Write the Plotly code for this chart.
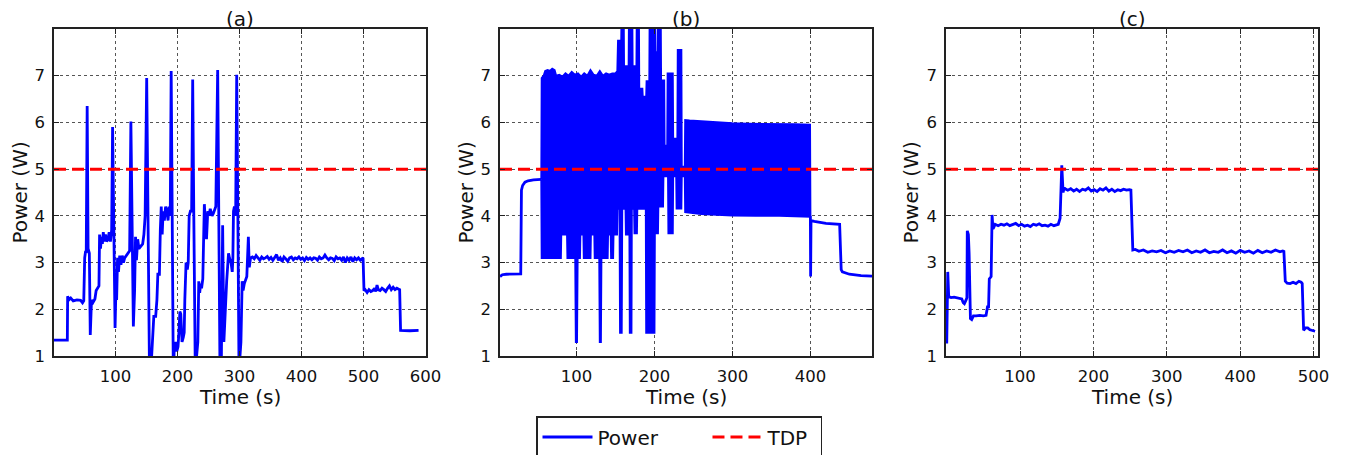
import plotly.graph_objects as go

# ========= DATA =========
TDP_W = 5.0

# (a) power trace
A_T = [1, 22.5, 23, 25, 28, 32, 38, 44, 47, 49, 50.5, 52, 53, 54.5, 56, 58, 59.5, 61.5, 64, 67,
       69, 72, 73.5, 74.5, 76, 77.5, 79, 80.5, 82, 84, 86, 88, 90, 92, 94, 95.5, 97, 99.5, 101, 102,
       103.5, 105, 107, 109, 111, 113, 115, 118, 121, 123, 125, 127, 129, 131, 132.5, 134, 136, 138, 141, 144,
       146, 148, 150.5, 152.5, 155, 158.5, 160.5, 162, 165, 167, 168.5, 171, 172.5, 174, 175.5, 177, 179, 181, 183, 185,
       186.5, 188.5, 190, 192, 193.5, 195, 197, 199, 201, 202.5, 204, 205.5, 207.5, 209.5, 211, 212, 214, 216, 217.5, 219,
       221, 223, 224.7, 226.5, 229, 231, 233, 234.5, 236, 237.5, 239, 241, 243.5, 245, 247, 249, 251, 253, 256, 258,
       260, 262, 265, 267, 268.8, 271, 273, 275, 277, 279.5, 281, 282.5, 284, 286.5, 288.5, 289.5, 290.5, 292, 294, 295.7,
       297.5, 299.5, 301, 302.5, 304.5, 306, 308, 310, 312, 314.5, 316, 318,
       321, 324, 327, 330, 333, 336, 339, 342, 345, 348, 351, 354, 357, 360, 363, 366, 369, 372, 375, 378,
       381, 384, 387, 390, 393, 396, 399, 402, 405, 408, 411, 414, 417, 420, 423, 426, 429, 432, 435, 438,
       441, 444, 447, 450, 453, 456, 459, 462, 465, 468, 471, 474, 477, 480, 483, 486, 489, 492, 495, 498, 499.5,
       501, 503, 506, 509, 512, 515, 518, 520, 522, 524, 527, 530, 533, 536, 539, 542, 545, 548, 551, 554,
       557, 558.5, 560, 575, 589]
A_P = [1.34, 1.34, 2.28, 2.2, 2.24, 2.18, 2.2, 2.19, 2.14, 2.18, 3.1, 3.25, 3.2, 6.35, 3.3, 3.2, 1.45, 2.2, 2.15, 2.22,
       2.4, 2.45, 2.5, 3.6, 3.3, 3.55, 3.4, 3.65, 3.45, 3.6, 3.45, 3.5, 3.65, 3.45, 3.7, 5.9, 3.6, 1.6, 2.5, 2.2,
       3.1, 2.8, 3.15, 2.95, 3.15, 3.0, 3.1, 3.15, 3.2, 3.25, 6.02, 3.5, 1.63, 2.4, 3.55, 3.05, 3.5, 3.3, 3.35, 3.4,
       3.6, 4.0, 6.95, 4.0, 0.7, 1.0, 1.5, 1.85, 1.85, 2.2, 2.75, 2.75, 3.7, 4.2, 3.6, 4.1, 3.9, 4.2, 4.1, 3.9,
       4.2, 4.0, 7.1, 4.0, 0.5, 1.2, 1.3, 1.1, 1.2, 1.5, 1.95, 1.9, 1.3, 1.4, 1.5, 2.2, 3.0, 2.85, 3.0, 4.0,
       4.1, 4.1, 6.92, 4.0, 0.5, 1.0, 1.3, 2.6, 2.35, 2.55, 2.45, 2.65, 4.25, 3.9, 3.5, 4.1, 4.0, 4.15, 4.0, 4.05,
       4.15, 4.2, 7.12, 4.1, 0.5, 1.0, 3.8, 1.3, 2.0, 2.6, 2.9, 3.2, 3.1, 3.0, 2.8, 3.1, 4.1, 4.2, 4.0, 7.02,
       4.1, 0.5, 1.0, 1.3, 2.6, 2.4, 2.55, 2.65, 2.7, 3.55, 2.9, 3.1,
       3.12, 3.08, 3.15, 3.1, 3.05, 3.12, 3.08, 3.1, 3.13, 3.07, 3.11, 3.05, 3.1, 3.17, 3.05, 3.1, 3.02, 3.12, 3.08, 3.03,
       3.1, 3.12, 3.06, 3.1, 3.08, 3.12, 3.07, 3.1, 3.04, 3.11, 3.07, 3.1, 3.06, 3.1, 3.09, 3.05, 3.12, 3.08, 3.1, 3.16,
       3.1, 3.06, 3.1, 3.09, 3.04, 3.12, 3.08, 3.1, 3.05, 3.12, 3.0, 3.1, 3.05, 3.12, 3.02, 3.1, 3.06, 3.1, 3.05, 3.08, 3.1,
       2.4, 2.42, 2.36, 2.42, 2.38, 2.4, 2.45, 2.38, 2.52, 2.42, 2.4, 2.45, 2.42, 2.38, 2.45, 2.5, 2.42, 2.47, 2.42, 2.45,
       2.43, 2.42, 1.55, 1.54, 1.55]

# (b) quiet parts before / after the throttling phase
B_PRE_T = [2, 5, 10, 20, 28.6, 29.5, 31, 34, 38, 45, 50, 55]
B_PRE_P = [2.7, 2.74, 2.75, 2.75, 2.76, 4.55, 4.65, 4.72, 4.75, 4.77, 4.78, 4.78]
B_POST_T = [400, 400.3, 400.8, 405, 420, 437.5, 439.5, 441, 450, 465, 479]
B_POST_P = [4.0, 2.7, 3.9, 3.88, 3.84, 3.82, 2.85, 2.8, 2.75, 2.72, 2.71]

# (b) envelope of the dense oscillation (top / bottom of the band)
B_HI_T = [55, 55.5, 58, 60, 63, 66, 69, 72, 74, 78, 82, 86, 90, 94, 98, 102, 106, 110, 114, 118,
          122, 126, 130, 134, 138, 142, 146, 150, 152.5, 153.4, 157.5, 158, 160.5, 161, 167, 167.5, 171.5, 172, 177, 177.5,
          180, 180.5, 184.5, 185, 189.5, 190, 193.5, 194, 200.5, 201, 204, 204.5, 208, 208.5, 212.5, 213, 216.5, 217, 223.5, 224,
          229.5, 230, 234.5, 235, 239, 239.5, 245, 260, 280, 300, 320, 340, 360, 380, 399.5, 400]
B_HI_P = [4.78, 6.95, 7.0, 7.1, 7.12, 7.1, 7.15, 7.12, 7.0, 7.02, 6.98, 7.05, 7.0, 7.08, 7.02, 7.05, 6.98, 7.05, 7.0, 7.12,
          7.02, 7.0, 7.1, 7.0, 7.05, 7.02, 7.05, 7.05, 7.1, 7.75, 7.75, 8.5, 8.5, 7.2, 7.2, 8.5, 8.5, 7.2, 7.2, 8.5,
          8.5, 6.72, 6.72, 6.55, 6.55, 6.88, 6.88, 8.5, 8.5, 7.5, 7.5, 8.5, 8.5, 6.9, 6.9, 5.5, 5.5, 7.05, 7.05, 5.65,
          5.65, 7.55, 7.55, 5.05, 5.05, 6.05, 6.04, 6.02, 6.0, 5.98, 5.97, 5.97, 5.96, 5.96, 5.95, 4.0]
B_LO_T = [55, 55.5, 80, 80.5, 88, 88.5, 98.5, 99.3, 100.7, 101.5, 104.5, 105, 109, 109.5, 118, 118.5, 123, 123.5, 129.3, 130,
          131.3, 132, 140, 140.5, 144, 144.5, 147, 147.5, 152, 152.5, 155.3, 156, 158, 158.7, 163, 163.5, 168, 168.5, 170.5, 171,
          174, 174.5, 177.5, 178, 189, 189.5, 200, 200.5, 204.5, 205, 211, 211.5, 217.5, 218, 223.5, 224, 228, 228.5, 234.5, 235,
          239, 239.5, 260, 280, 300, 330, 360, 399.5, 400]
B_LO_P = [4.78, 3.1, 3.1, 3.6, 3.6, 3.1, 3.1, 1.3, 1.3, 3.1, 3.1, 3.6, 3.6, 3.1, 3.1, 3.6, 3.6, 3.1, 3.1, 1.3,
          1.3, 3.1, 3.1, 3.6, 3.6, 3.1, 3.1, 3.6, 3.6, 4.15, 4.15, 1.5, 1.5, 4.15, 4.15, 3.6, 3.6, 1.5, 1.5, 4.15,
          4.15, 3.63, 3.63, 4.15, 4.15, 1.5, 1.5, 3.63, 3.63, 4.2, 4.2, 4.85, 4.85, 3.63, 3.63, 4.85, 4.85, 4.16, 4.16, 4.85,
          4.85, 4.08, 4.04, 4.02, 4.01, 4.0, 4.0, 3.98, 4.0]

# (c) power trace
C_T = [0, 1.4, 2.7, 6, 10, 14, 18, 20.5, 22.5, 24, 26.4, 27.5, 28, 29.5, 30.5, 32.3, 34, 36.4, 40, 45,
       50, 53.6, 55.5, 57, 58, 60.5, 61.8, 63, 64, 66, 70, 74, 78, 82, 86, 90, 94, 98, 102, 106,
       110, 114, 118, 122, 126, 130, 134, 138, 142, 146, 150, 152, 154.5, 156.8, 158.6, 160, 161.4, 165, 169, 173,
       177, 181, 185, 189, 193, 197, 201, 205, 209, 213, 217, 221, 225, 229, 233, 237, 241, 245, 249, 251,
       253.6, 257, 262, 268, 274, 280, 286, 292, 298, 304, 310, 316, 322, 328, 334, 340, 346, 352, 358, 364,
       370, 376, 382, 388, 394, 400, 406, 412, 418, 424, 430, 436, 442, 448, 454, 458, 459.5, 461.4, 464, 468,
       472, 476, 480, 483, 484.5, 486.4, 489, 492, 495, 498, 502]
C_P = [1.27, 2.8, 2.27, 2.25, 2.26, 2.24, 2.23, 2.22, 2.14, 2.12, 2.2, 2.25, 3.68, 3.6, 3.2, 1.8, 1.78, 1.86, 1.86, 1.87,
       1.86, 1.87, 2.05, 2.05, 2.65, 2.7, 4.02, 3.72, 3.75, 3.82, 3.79, 3.82, 3.8, 3.83, 3.79, 3.81, 3.84, 3.79, 3.82, 3.78,
       3.8, 3.77, 3.82, 3.8, 3.83, 3.79, 3.8, 3.78, 3.82, 3.79, 3.8, 3.82, 3.95, 5.08, 4.5, 4.6, 4.58, 4.55, 4.58, 4.53,
       4.57, 4.52, 4.57, 4.55, 4.6, 4.53, 4.56, 4.52, 4.58, 4.55, 4.6, 4.53, 4.57, 4.52, 4.56, 4.54, 4.57, 4.55, 4.56, 4.55,
       3.27, 3.28, 3.24, 3.27, 3.22, 3.25, 3.23, 3.26, 3.21, 3.25, 3.22, 3.26, 3.23, 3.27, 3.21, 3.25, 3.22, 3.27, 3.21, 3.24,
       3.22, 3.27, 3.21, 3.25, 3.2, 3.26, 3.22, 3.25, 3.2, 3.26, 3.21, 3.25, 3.22, 3.27, 3.23, 3.25, 3.24, 2.6, 2.56, 2.55,
       2.58, 2.55, 2.6, 2.58, 2.55, 1.55, 1.6, 1.6, 1.56, 1.55, 1.53]

X_RANGES = [[1, 601], [2, 479], [-1, 506]]
X_TICKS = [[100, 200, 300, 400, 500, 600], [100, 200, 300, 400], [100, 200, 300, 400, 500]]
Y_TICKS = [1, 2, 3, 4, 5, 6, 7]
PANEL_TITLES = ["(a)", "(b)", "(c)"]

# ========= STYLE =========
BLUE = "#0000ff"
RED = "#ff0000"
FONT = "DejaVu Sans"
# the page body keeps its default 8px margin, so the figure is shrunk by that much
OFF = 8
W, H = 1353 - OFF, 455 - OFF


def px_x(px):
    return (px - OFF) / W


def px_y(py):
    return 1 - (py - OFF) / H


X_DOMAINS = [[px_x(54), px_x(426)], [px_x(500), px_x(872)], [px_x(946), px_x(1318)]]
Y_DOMAIN = [px_y(356), px_y(29)]
YLABEL_X = [19, 465, 910]
NBSP = "\u00a0"   # pads legend entries so the box spacing matches

fig = go.Figure()

power_line = dict(color=BLUE, width=2.8)
tdp_line = dict(color=RED, width=3, dash="12px,6px")

# (a)
fig.add_trace(go.Scatter(x=A_T, y=A_P, mode="lines", line=power_line, name="Power" + NBSP * 7,
                         legendgroup="power", xaxis="x", yaxis="y"))

# (b)
fig.add_trace(go.Scatter(x=B_PRE_T, y=B_PRE_P, mode="lines", line=power_line, showlegend=False,
                         legendgroup="power", xaxis="x2", yaxis="y2"))
fig.add_trace(go.Scatter(x=B_HI_T, y=B_HI_P, mode="lines", line=dict(color=BLUE, width=2),
                         showlegend=False, legendgroup="power", xaxis="x2", yaxis="y2"))
fig.add_trace(go.Scatter(x=B_LO_T, y=B_LO_P, mode="lines", line=dict(color=BLUE, width=2),
                         fill="tonexty", fillcolor=BLUE, showlegend=False, legendgroup="power",
                         xaxis="x2", yaxis="y2"))
fig.add_trace(go.Scatter(x=B_POST_T, y=B_POST_P, mode="lines", line=power_line, showlegend=False,
                         legendgroup="power", xaxis="x2", yaxis="y2"))

# (c)
fig.add_trace(go.Scatter(x=C_T, y=C_P, mode="lines", line=power_line, showlegend=False,
                         legendgroup="power", xaxis="x3", yaxis="y3"))

# TDP lines
for i, rng in enumerate(X_RANGES):
    sfx = "" if i == 0 else str(i + 1)
    fig.add_trace(go.Scatter(x=rng, y=[TDP_W, TDP_W], mode="lines", line=tdp_line, name="TDP" + NBSP,
                             legendgroup="tdp", showlegend=(i == 0),
                             xaxis="x" + sfx, yaxis="y" + sfx))


def axis_style():
    return dict(showline=True, linecolor="#222", linewidth=1.5, mirror="allticks",
                ticks="inside", ticklen=5, tickwidth=1, tickcolor="#222",
                showgrid=True, gridcolor="#555", gridwidth=1, griddash="dot",
                zeroline=False, ticklabelstandoff=4, automargin=False,
                tickfont=dict(family=FONT, size=16.5, color="#111"))


layout = dict(width=W, height=H, margin=dict(l=0, r=0, t=0, b=0, autoexpand=False),
              paper_bgcolor="white", plot_bgcolor="white",
              font=dict(family=FONT, color="#111"),
              showlegend=True,
              legend=dict(orientation="h", x=px_x(679), xanchor="center", y=px_y(416), yanchor="top",
                          bordercolor="#222", borderwidth=1.5, bgcolor="white", itemwidth=50,
                          font=dict(family=FONT, size=20, color="#111"),
                          traceorder="normal"))

annotations = []
for i in range(3):
    sfx = "" if i == 0 else str(i + 1)
    xa = axis_style()
    xa.update(domain=X_DOMAINS[i], range=X_RANGES[i], tickvals=X_TICKS[i], anchor="y" + sfx)
    ya = axis_style()
    ya.update(domain=Y_DOMAIN, range=[1, 8], tickvals=Y_TICKS, anchor="x" + sfx)
    layout["xaxis" + sfx] = xa
    layout["yaxis" + sfx] = ya

    xc = (X_DOMAINS[i][0] + X_DOMAINS[i][1]) / 2
    annotations.append(dict(text=PANEL_TITLES[i], x=xc, y=px_y(6), xref="paper", yref="paper",
                            showarrow=False, xanchor="center", yanchor="top", borderpad=0,
                            font=dict(family=FONT, size=20, color="#111")))
    annotations.append(dict(text="Time (s)", x=xc, y=px_y(397), xref="paper", yref="paper",
                            showarrow=False, xanchor="center", yanchor="middle",
                            font=dict(family=FONT, size=20, color="#111")))
    annotations.append(dict(text="Power (W)", x=px_x(YLABEL_X[i]), y=(Y_DOMAIN[0] + Y_DOMAIN[1]) / 2,
                            xref="paper", yref="paper", showarrow=False, textangle=-90,
                            xanchor="center", yanchor="middle",
                            font=dict(family=FONT, size=20, color="#111")))

layout["annotations"] = annotations
fig.update_layout(**layout)

fig.write_html("out.html")
